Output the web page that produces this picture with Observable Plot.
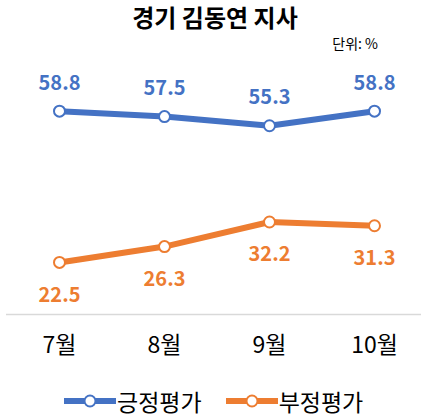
<!DOCTYPE html>
<html><head><meta charset="utf-8">
<script src="https://cdn.jsdelivr.net/npm/d3@7"></script>
<script src="https://cdn.jsdelivr.net/npm/@observablehq/plot@0.6"></script>
<style>
body{margin:0;background:#fff;font-family:"Noto Sans CJK KR","Noto Sans",sans-serif;}
#wrap{position:relative;width:422px;height:419px;overflow:hidden;background:#fff}
#title{position:absolute;left:0;top:2px;width:430px;text-align:center;font-size:24px;font-weight:bold;line-height:30px;color:#000}
#unit{position:absolute;right:44px;top:34px;font-size:14px;line-height:18px;color:#000}
#chart{position:absolute;left:0;top:56px}
#legend{position:absolute;left:64px;top:387px;display:flex;align-items:center;font-size:23px;line-height:28px;color:#000}
#legend .item{display:flex;align-items:center}
#legend svg{display:block;margin-right:1px}
</style></head>
<body>
<div id="wrap">
  <div id="title">경기 김동연 지사</div>
  <div id="unit">단위: %</div>
  <div id="chart"></div>
  <div id="legend"></div>
</div>
<script>
const months = ["7월", "8월", "9월", "10월"];
const positive = [58.8, 57.5, 55.3, 58.8];
const negative = [22.5, 26.3, 32.2, 31.3];
const seriesNames = ["긍정평가", "부정평가"];
const seriesColors = ["#4472C4", "#ED7D31"];

const pos = months.map((m, i) => ({month: m, value: positive[i]}));
const neg = months.map((m, i) => ({month: m, value: negative[i]}));

const chart = Plot.plot({
  width: 422,
  height: 320,
  marginLeft: 6,
  marginRight: 1,
  marginTop: 8,
  marginBottom: 62,
  style: {fontFamily: '"Noto Sans CJK KR", sans-serif', background: "#fff", overflow: "visible"},
  x: {type: "point", domain: months, range: [59, 374], padding: 0, label: null},
  y: {domain: [10, 70], axis: null},
  marks: [
    Plot.ruleY([10], {stroke: "#d9d9d9", strokeWidth: 1.5}),
    Plot.axisX({tickSize: 0, tickPadding: 22, fontSize: 23, fill: "#000", label: null}),
    Plot.line(pos, {x: "month", y: "value", stroke: seriesColors[0], strokeWidth: 6, strokeLinecap: "round"}),
    Plot.line(neg, {x: "month", y: "value", stroke: seriesColors[1], strokeWidth: 6, strokeLinecap: "round"}),
    Plot.dot(pos, {x: "month", y: "value", r: 5.5, fill: "#fff", stroke: seriesColors[0], strokeWidth: 2}),
    Plot.dot(neg, {x: "month", y: "value", r: 5.5, fill: "#fff", stroke: seriesColors[1], strokeWidth: 2}),
    Plot.text(pos, {x: "month", y: "value", text: d => d.value.toFixed(1), dy: -28, fill: seriesColors[0], fontSize: 20, fontWeight: "bold"}),
    Plot.text(neg, {x: "month", y: "value", text: d => d.value.toFixed(1), dy: 33, fill: seriesColors[1], fontSize: 20, fontWeight: "bold"})
  ]
});
document.getElementById("chart").appendChild(chart);

const legend = document.getElementById("legend");
seriesNames.forEach((name, i) => {
  const item = document.createElement("div");
  item.className = "item";
  if (i > 0) item.style.marginLeft = "24px";
  item.innerHTML = `<svg width="52" height="16"><line x1="0" y1="8" x2="52" y2="8" stroke="${seriesColors[i]}" stroke-width="6" stroke-linecap="round"/><circle cx="26" cy="8" r="5.5" fill="#fff" stroke="${seriesColors[i]}" stroke-width="2"/></svg><span>${name}</span>`;
  legend.appendChild(item);
});
</script>
</body></html>
